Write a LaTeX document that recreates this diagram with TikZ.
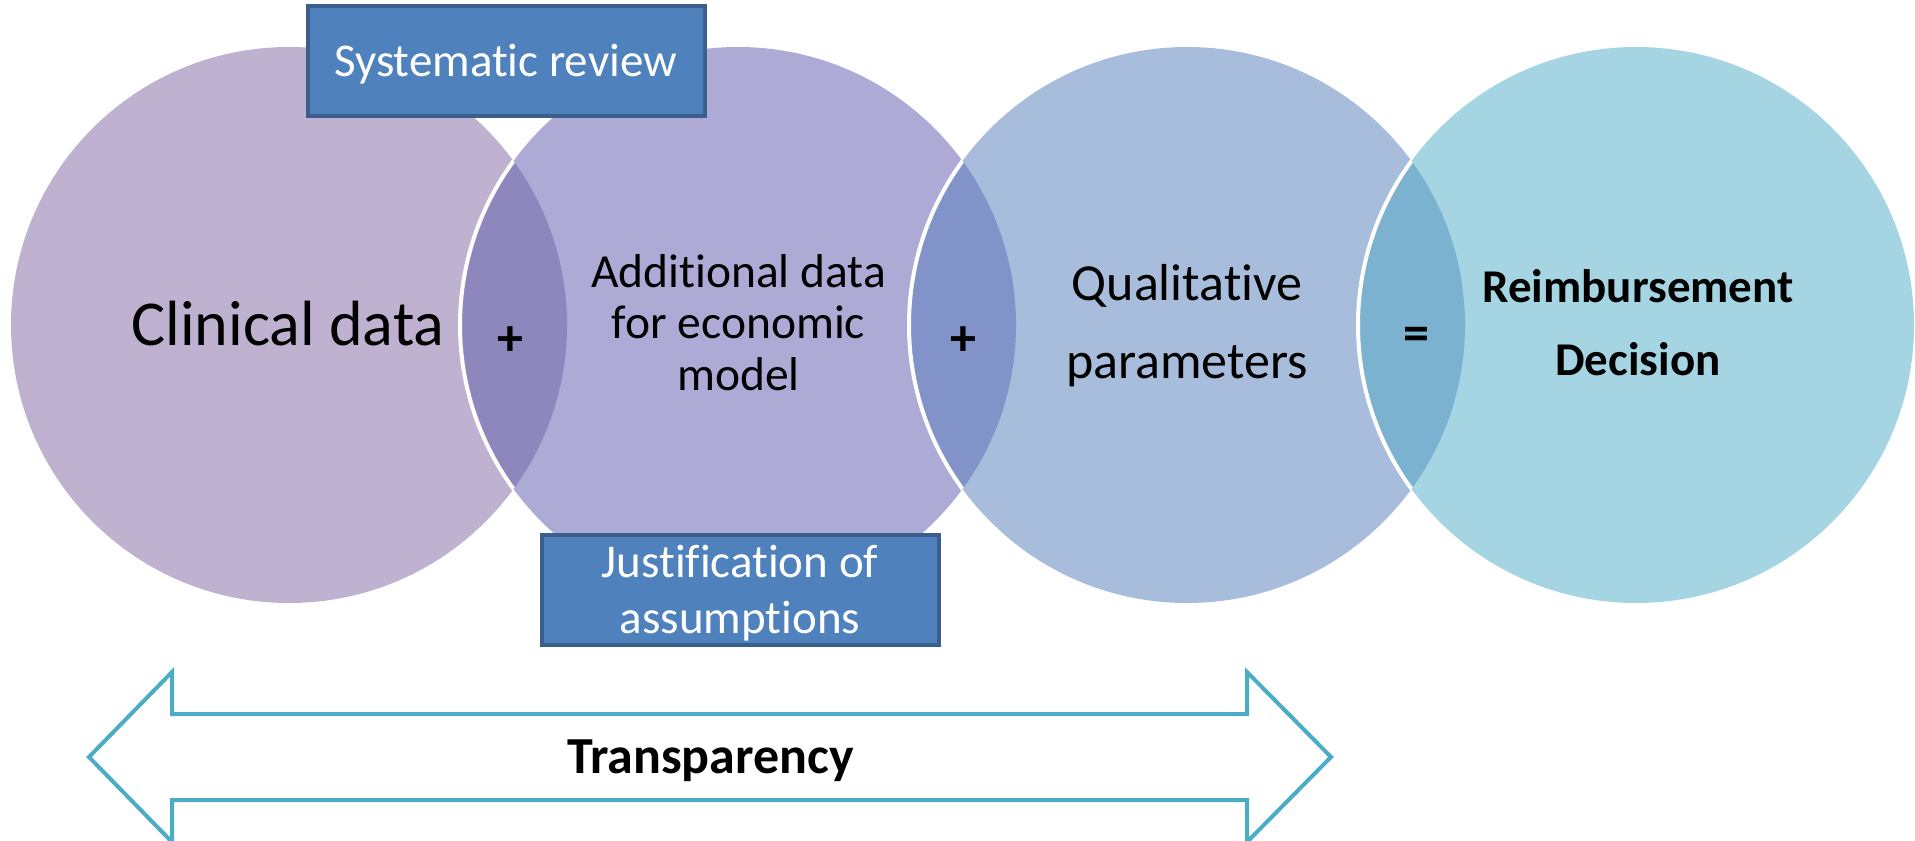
\documentclass[tikz,border=0pt]{standalone}
\usepackage{fontspec}
\setmainfont{Carlito}[Ligatures={NoCommon,NoContextual,NoRequired}]
\definecolor{cA}{HTML}{BFB1D0}
\definecolor{cB}{HTML}{ADABD6}
\definecolor{cC}{HTML}{A8BCDB}
\definecolor{cD}{HTML}{A5D5E2}
\definecolor{lAB}{HTML}{8E87BE}
\definecolor{lBC}{HTML}{8193C8}
\definecolor{lCD}{HTML}{7BB2D0}
\definecolor{boxfill}{HTML}{4F81BD}
\definecolor{boxline}{HTML}{3A5F8B}
\definecolor{arrowline}{HTML}{4BACC6}
\begin{document}
\begin{tikzpicture}[x=0.5pt,y=-0.5pt,
  bubble/.style={fill=#1},
  lens/.style={fill=#1},
  seam/.style={draw=white, line width=2pt},
  bluebox/.style={draw=boxline, fill=boxfill, line width=2pt, rectangle,
    minimum width=198.5pt, minimum height=55pt, inner sep=0pt},
  boxtext/.style={text=white, font=\fontsize{23.5}{28}\selectfont, align=center, anchor=base, inner sep=0pt},
  maintext/.style={text=black, align=center, anchor=base, inner sep=0pt},
  opsign/.style={text=black, font=\fontsize{26}{28}\selectfont\bfseries, inner sep=0pt},
  bigarrow/.style={draw=arrowline, line width=2pt, fill=white, line join=miter}
]
\useasboundingbox (0,0) rectangle (1915,840);
\def\rad{139pt}
\coordinate (c1) at (289,325);
\coordinate (c2) at (738,325);
\coordinate (c3) at (1187,325);
\coordinate (c4) at (1636,325);

% circles
\fill[bubble=cA] (c1) circle (\rad);
\fill[bubble=cB] (c2) circle (\rad);
\fill[bubble=cC] (c3) circle (\rad);
\fill[bubble=cD] (c4) circle (\rad);

% lenses
\begin{scope}\clip (c1) circle (\rad); \fill[lens=lAB] (c2) circle (\rad);\end{scope}
\begin{scope}\clip (c2) circle (\rad); \fill[lens=lBC] (c3) circle (\rad);\end{scope}
\begin{scope}\clip (c3) circle (\rad); \fill[lens=lCD] (c4) circle (\rad);\end{scope}

% white seams
\begin{scope}\clip (c1) circle (\rad); \draw[seam] (c2) circle (\rad);\end{scope}
\begin{scope}\clip (c2) circle (\rad); \draw[seam] (c3) circle (\rad);\end{scope}
\begin{scope}\clip (c3) circle (\rad); \draw[seam] (c4) circle (\rad);\end{scope}

% texts in circles (base anchor = baseline of last line)
\node[maintext, font=\fontsize{32}{38}\selectfont] (clin) at (288,345) {Clinical data};
\node[maintext, font=\fontsize{23.75}{25.75}\selectfont] (add) at (738.5,390)
  {Additional data\\for economic\\model};
\node[maintext, font=\fontsize{26}{39}\selectfont] (qual) at (1187,378)
  {Qualitative\\parameters};
\node[maintext, font=\fontsize{23.5}{36.5}\selectfont\bfseries] (reim) at (1638,375)
  {Reimbursement\\Decision};

\node[opsign] (plusA) at (510,341) {+};
\node[opsign] (plusB) at (963,341) {+};
\node[opsign] (eqC) at (1416,339) {=};

% boxes
\node[bluebox] (sysbox) at (506.5,61) {};
\node[boxtext] (systxt) at (505.5,77) {Systematic review};
\node[bluebox] (jusbox) at (740.5,590) {};
\node[boxtext] (justxt) at (740,633) {Justification of\\assumptions};

% double arrow
\draw[bigarrow] (89,757) -- (172,672) -- (172,714) -- (1247,714) -- (1247,672)
  -- (1331,757) -- (1247,842) -- (1247,800) -- (172,800) -- (172,842) -- cycle;
\node[maintext, font=\fontsize{26}{30}\selectfont\bfseries] (transp) at (710.5,773) {Transparency};
\end{tikzpicture}
\end{document}
